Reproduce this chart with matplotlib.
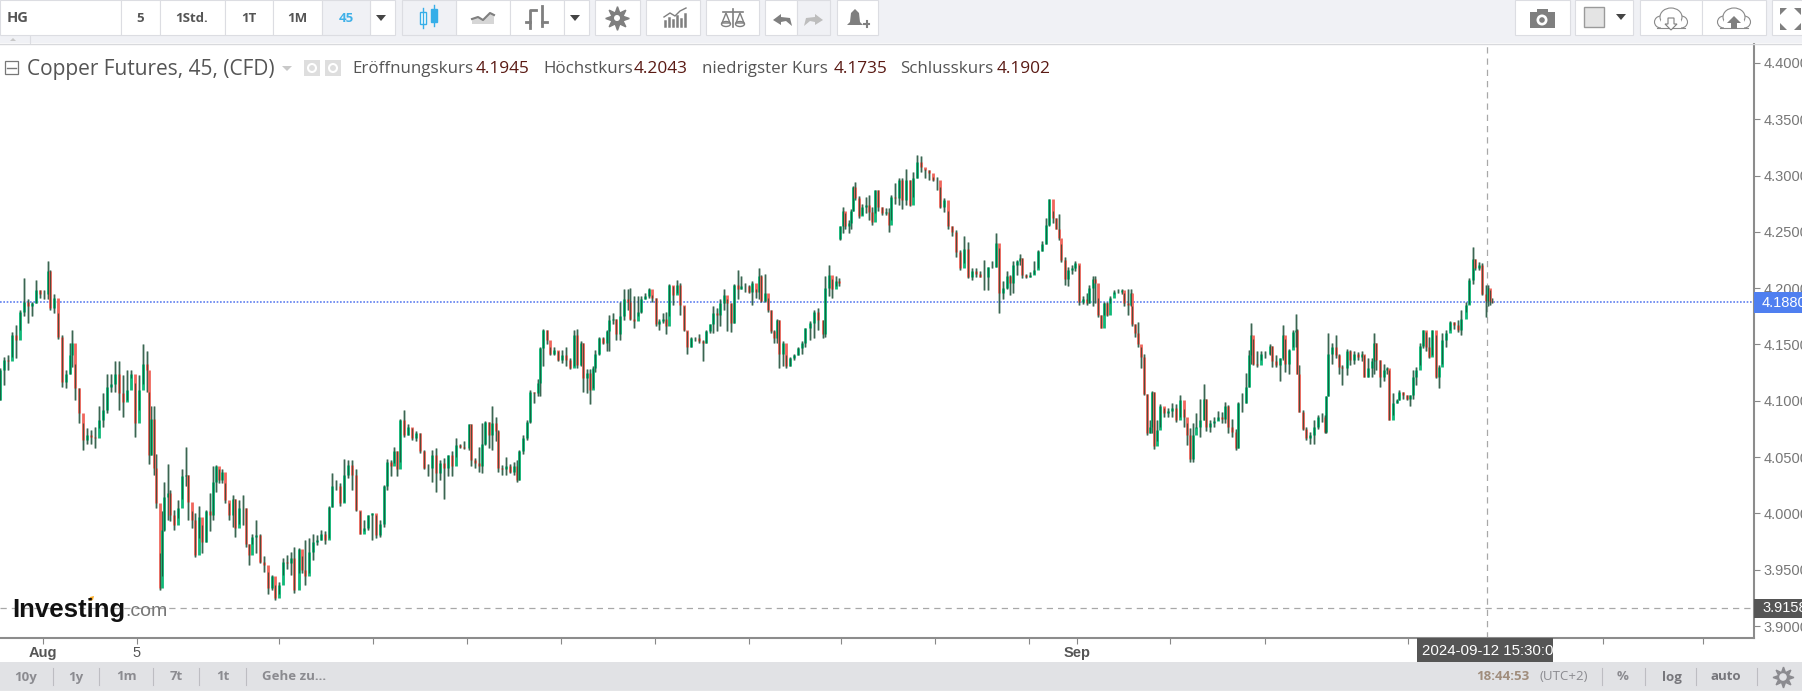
import matplotlib
matplotlib.use('Agg')
import matplotlib.pyplot as plt
from matplotlib.patches import Rectangle, Polygon, Circle, Ellipse

# candles, one block per stretch of the picture
x_a = [0,4,8,12,16,20,24,28,32,36,40,44,48,50,54,58,62,66,70,72,75,79,83,87,91,95,99,103,107,111,115,119,123,127,131,135,139,143,147,149,151,154,156]
close_a = [4.127,4.136,4.135,4.158,4.154,4.179,4.188,4.184,4.187,4.198,4.195,4.195,4.215,4.182,4.191,4.157,4.117,4.124,4.141,4.151,4.111,4.089,4.065,4.070,4.068,4.067,4.083,4.092,4.112,4.115,4.124,4.107,4.099,4.110,4.124,4.080,4.110,4.133,4.127,4.052,4.084,4.040,4.009]
high_a = [4.129,4.139,4.141,4.161,4.167,4.181,4.209,4.190,4.188,4.207,4.198,4.198,4.224,4.216,4.195,4.178,4.158,4.127,4.151,4.163,4.133,4.111,4.080,4.076,4.074,4.077,4.095,4.107,4.124,4.124,4.135,4.135,4.123,4.127,4.127,4.116,4.123,4.150,4.144,4.108,4.095,4.095,4.053]
low_a = [4.101,4.114,4.127,4.139,4.138,4.163,4.175,4.169,4.175,4.187,4.191,4.190,4.190,4.181,4.178,4.155,4.112,4.111,4.124,4.130,4.101,4.080,4.056,4.062,4.062,4.058,4.076,4.077,4.089,4.108,4.108,4.092,4.086,4.101,4.120,4.068,4.092,4.115,4.108,4.044,4.052,4.034,4.005]

x_b = [160,162,164,168,170,174,178,182,186,188,192,195,199,202,206,210,213,216,219,222,225,229,233,235,239,243,246,249,252,256,260,264,268,272,275,279,283,287,291,294]
close_b = [3.934,3.985,4.015,4.018,3.999,3.990,4.005,4.033,4.034,4.010,3.994,3.963,3.997,3.975,4.002,3.999,4.028,4.042,4.030,4.037,4.012,3.999,4.013,3.987,4.005,4.005,3.973,3.963,3.979,3.981,3.957,3.954,3.934,3.944,3.925,3.936,3.957,3.956,3.960,3.932]
high_b = [3.965,4.002,4.028,4.044,4.021,4.003,4.012,4.039,4.059,4.034,4.002,4.000,4.007,3.990,4.003,4.018,4.042,4.043,4.039,4.039,4.027,4.009,4.016,4.013,4.012,4.016,4.005,3.973,3.982,3.994,3.982,3.962,3.948,3.945,3.936,3.939,3.960,3.963,3.966,3.970]
low_b = [3.932,3.944,3.984,3.994,3.993,3.985,3.996,4.013,4.024,3.994,3.987,3.961,3.978,3.965,3.975,3.984,3.994,4.019,4.027,4.027,4.009,3.994,3.988,3.979,3.991,3.990,3.970,3.954,3.973,3.965,3.956,3.948,3.928,3.932,3.923,3.928,3.945,3.951,3.945,3.929]

x_c = [299,302,305,309,313,317,321,325,329,332,336,340,344,348,352,356,360,364,368,372,376,380,384,387,391,394,397,400,404,408,412,416,420,424,428,432,436,440,444,448,452,456,460,464,469,471,475,479,482,485,489,492,496,498,502,506,510,514,517,519,523,527,530,534,538]
close_c = [3.968,3.950,3.944,3.966,3.975,3.976,3.982,3.976,4.006,4.024,4.024,4.009,4.034,4.043,4.034,4.003,3.982,3.987,3.999,4.000,3.981,3.991,4.024,4.046,4.042,4.055,4.039,4.083,4.070,4.077,4.067,4.071,4.055,4.040,4.040,4.052,4.036,4.045,4.040,4.052,4.042,4.061,4.059,4.058,4.079,4.047,4.045,4.042,4.062,4.081,4.070,4.080,4.073,4.040,4.039,4.042,4.037,4.042,4.030,4.055,4.067,4.081,4.108,4.107,4.116]
high_c = [3.969,3.962,3.976,3.978,3.982,3.981,3.985,3.984,4.007,4.036,4.030,4.027,4.048,4.047,4.047,4.039,4.002,3.994,3.999,4.000,3.999,3.994,4.025,4.048,4.047,4.059,4.055,4.084,4.092,4.079,4.076,4.073,4.071,4.056,4.044,4.056,4.058,4.047,4.049,4.052,4.055,4.067,4.062,4.064,4.079,4.079,4.049,4.059,4.080,4.082,4.081,4.095,4.086,4.074,4.043,4.050,4.044,4.046,4.047,4.056,4.070,4.083,4.110,4.108,4.119]
low_c = [3.947,3.947,3.936,3.947,3.959,3.972,3.976,3.973,3.978,4.006,4.021,4.007,4.010,4.031,4.021,4.002,3.982,3.984,3.985,3.976,3.978,3.979,3.988,4.021,4.033,4.045,4.033,4.046,4.068,4.070,4.065,4.064,4.054,4.039,4.033,4.028,4.019,4.030,4.013,4.033,4.033,4.050,4.058,4.057,4.056,4.042,4.040,4.037,4.036,4.061,4.058,4.056,4.064,4.037,4.034,4.034,4.036,4.034,4.028,4.030,4.053,4.065,4.080,4.098,4.104]

x_d = [540,543,547,550,554,558,562,566,570,574,577,581,583,587,590,593,595,599,603,607,609,613,616,620,624,628,630,634,638,641,645,649,652,656,659,663,666,669,673,677,680,684,687,691,695,699,703,706,710,713,717,720,724,727,731,734,738,741,745,749,752,756,759,761,765,768,771,774,777,779,783,786,790,794,798,802,805,810,814,818,823,825,829,832,836,839]
close_d = [4.147,4.163,4.154,4.142,4.145,4.136,4.141,4.136,4.129,4.158,4.132,4.151,4.120,4.125,4.110,4.129,4.142,4.156,4.151,4.162,4.172,4.173,4.159,4.175,4.190,4.188,4.173,4.171,4.179,4.190,4.193,4.199,4.191,4.168,4.171,4.173,4.166,4.203,4.194,4.203,4.185,4.163,4.148,4.156,4.156,4.153,4.151,4.162,4.168,4.178,4.176,4.187,4.194,4.187,4.169,4.203,4.199,4.202,4.202,4.197,4.205,4.197,4.211,4.189,4.196,4.181,4.162,4.156,4.172,4.142,4.151,4.131,4.138,4.141,4.147,4.151,4.165,4.169,4.179,4.172,4.159,4.200,4.212,4.199,4.206,4.205]
high_d = [4.148,4.164,4.163,4.148,4.148,4.144,4.145,4.148,4.138,4.163,4.164,4.153,4.151,4.128,4.128,4.131,4.145,4.157,4.157,4.163,4.176,4.178,4.173,4.188,4.199,4.199,4.200,4.193,4.193,4.193,4.196,4.200,4.194,4.191,4.173,4.178,4.179,4.204,4.202,4.207,4.205,4.184,4.162,4.157,4.157,4.159,4.154,4.163,4.168,4.184,4.182,4.190,4.199,4.190,4.187,4.204,4.216,4.211,4.205,4.203,4.206,4.199,4.218,4.212,4.213,4.191,4.181,4.163,4.173,4.172,4.153,4.141,4.139,4.142,4.148,4.153,4.165,4.171,4.181,4.182,4.172,4.211,4.221,4.208,4.211,4.209]
low_d = [4.104,4.131,4.150,4.141,4.141,4.135,4.134,4.131,4.128,4.131,4.129,4.131,4.108,4.107,4.097,4.111,4.126,4.141,4.150,4.144,4.144,4.168,4.154,4.154,4.172,4.181,4.172,4.165,4.175,4.178,4.190,4.191,4.188,4.166,4.163,4.169,4.159,4.175,4.185,4.196,4.176,4.162,4.142,4.148,4.153,4.151,4.135,4.151,4.160,4.160,4.162,4.166,4.181,4.162,4.161,4.169,4.190,4.199,4.197,4.196,4.185,4.191,4.190,4.188,4.188,4.179,4.160,4.151,4.151,4.129,4.131,4.129,4.131,4.136,4.141,4.142,4.148,4.154,4.156,4.163,4.156,4.157,4.193,4.191,4.202,4.202]

x_e = [840,843,845,849,851,853,855,859,862,866,869,872,875,878,882,886,889,891,895,899,902,906,910,913,917,921,925,929,933,937,940,944,948,952,956,960,964,968,972,976,980,984,988,992,996]
close_e = [4.255,4.269,4.255,4.258,4.269,4.290,4.280,4.264,4.272,4.274,4.268,4.259,4.287,4.272,4.267,4.268,4.256,4.281,4.280,4.296,4.278,4.296,4.274,4.298,4.312,4.308,4.305,4.302,4.296,4.296,4.272,4.278,4.255,4.250,4.232,4.218,4.235,4.210,4.215,4.213,4.210,4.210,4.219,4.219,4.240]
high_e = [4.255,4.272,4.267,4.261,4.270,4.291,4.294,4.282,4.275,4.281,4.283,4.272,4.287,4.287,4.272,4.271,4.271,4.283,4.293,4.298,4.298,4.306,4.296,4.303,4.318,4.317,4.306,4.305,4.299,4.299,4.290,4.280,4.269,4.255,4.252,4.234,4.246,4.241,4.218,4.218,4.215,4.225,4.219,4.224,4.249]
low_e = [4.243,4.249,4.253,4.249,4.253,4.269,4.278,4.262,4.265,4.267,4.261,4.256,4.267,4.269,4.265,4.265,4.250,4.261,4.275,4.274,4.270,4.274,4.273,4.281,4.298,4.303,4.298,4.296,4.295,4.287,4.271,4.268,4.253,4.246,4.228,4.216,4.222,4.209,4.207,4.210,4.210,4.198,4.198,4.218,4.219]

x_f = [999,1003,1007,1010,1013,1017,1020,1022,1026,1030,1034,1038,1042,1046,1049,1053,1056,1059,1061,1065,1068,1072,1075,1079,1083,1087,1089,1093,1095,1098,1101,1104,1107,1110,1114,1118,1122,1124,1128,1131,1132,1135,1138,1141,1144,1147,1150,1152,1154,1157,1160,1164,1168,1172,1176,1180,1184,1187,1190,1193,1196,1200,1204,1206,1210,1214,1218]
close_f = [4.196,4.200,4.211,4.205,4.221,4.224,4.227,4.212,4.210,4.212,4.216,4.233,4.239,4.256,4.279,4.262,4.253,4.245,4.225,4.208,4.216,4.218,4.222,4.188,4.190,4.187,4.200,4.208,4.205,4.176,4.165,4.187,4.176,4.191,4.197,4.197,4.198,4.187,4.185,4.196,4.168,4.160,4.150,4.139,4.106,4.071,4.077,4.108,4.060,4.074,4.095,4.089,4.091,4.094,4.083,4.101,4.086,4.070,4.048,4.070,4.077,4.083,4.102,4.077,4.080,4.082,4.086]
high_f = [4.236,4.206,4.215,4.212,4.224,4.225,4.230,4.227,4.213,4.214,4.224,4.234,4.242,4.262,4.279,4.269,4.262,4.266,4.239,4.228,4.219,4.221,4.224,4.221,4.193,4.196,4.203,4.211,4.211,4.191,4.176,4.188,4.188,4.193,4.198,4.199,4.199,4.196,4.199,4.199,4.184,4.168,4.170,4.148,4.142,4.106,4.083,4.109,4.108,4.083,4.097,4.094,4.094,4.098,4.097,4.105,4.093,4.080,4.076,4.080,4.089,4.102,4.115,4.102,4.083,4.086,4.091]
low_f = [4.178,4.190,4.199,4.194,4.196,4.212,4.221,4.209,4.209,4.210,4.213,4.218,4.233,4.239,4.255,4.258,4.253,4.243,4.223,4.203,4.202,4.213,4.215,4.185,4.186,4.185,4.187,4.184,4.187,4.174,4.165,4.176,4.175,4.187,4.195,4.196,4.195,4.184,4.176,4.184,4.166,4.157,4.148,4.129,4.105,4.070,4.071,4.071,4.057,4.064,4.077,4.086,4.086,4.086,4.081,4.086,4.077,4.061,4.046,4.046,4.076,4.068,4.083,4.073,4.072,4.077,4.083]

x_g = [1222,1225,1228,1232,1236,1238,1242,1246,1249,1251,1253,1257,1261,1265,1270,1272,1276,1280,1283,1285,1289,1293,1296,1297,1299,1303,1306,1310,1314,1318,1322,1325,1326,1328,1332,1336,1339,1342,1347,1350,1354,1358,1362,1364,1368,1372,1374,1376,1380,1384,1387,1389,1393,1397,1399,1403,1407,1410,1413,1416,1420,1423,1426,1429,1432,1436,1439,1442,1446,1450,1454,1458,1461,1466,1469,1473,1475,1479,1482,1486,1488,1490,1492]
close_g = [4.084,4.095,4.077,4.072,4.058,4.098,4.098,4.112,4.141,4.158,4.133,4.132,4.142,4.142,4.149,4.135,4.132,4.138,4.158,4.133,4.145,4.161,4.163,4.124,4.090,4.075,4.067,4.070,4.077,4.086,4.086,4.072,4.104,4.142,4.148,4.141,4.130,4.129,4.144,4.136,4.142,4.139,4.142,4.121,4.129,4.135,4.151,4.136,4.121,4.127,4.129,4.083,4.098,4.101,4.108,4.105,4.102,4.105,4.121,4.127,4.149,4.163,4.148,4.139,4.163,4.121,4.130,4.154,4.160,4.170,4.167,4.163,4.173,4.185,4.207,4.226,4.218,4.221,4.195,4.189,4.200,4.189,4.188]
high_g = [4.090,4.099,4.096,4.084,4.075,4.099,4.107,4.125,4.145,4.169,4.155,4.144,4.144,4.144,4.150,4.149,4.141,4.138,4.167,4.155,4.146,4.163,4.177,4.164,4.132,4.092,4.077,4.072,4.083,4.087,4.089,4.087,4.104,4.160,4.151,4.158,4.142,4.132,4.146,4.145,4.144,4.143,4.144,4.141,4.138,4.138,4.160,4.151,4.136,4.133,4.130,4.127,4.107,4.102,4.110,4.108,4.105,4.105,4.127,4.130,4.151,4.163,4.161,4.157,4.163,4.158,4.132,4.160,4.163,4.171,4.170,4.172,4.181,4.188,4.209,4.237,4.226,4.223,4.222,4.203,4.203,4.198,4.191]
low_g = [4.080,4.080,4.071,4.068,4.056,4.058,4.090,4.098,4.112,4.133,4.132,4.130,4.136,4.138,4.141,4.130,4.130,4.118,4.136,4.126,4.124,4.148,4.148,4.124,4.090,4.074,4.065,4.062,4.062,4.075,4.081,4.071,4.071,4.104,4.133,4.138,4.124,4.114,4.123,4.132,4.133,4.136,4.135,4.121,4.121,4.121,4.124,4.127,4.112,4.118,4.124,4.083,4.087,4.098,4.101,4.102,4.101,4.095,4.102,4.114,4.132,4.147,4.144,4.138,4.141,4.120,4.111,4.133,4.148,4.163,4.164,4.161,4.158,4.179,4.186,4.204,4.216,4.216,4.194,4.174,4.184,4.185,4.187]

first_open = 4.101
gap_x = 840
gap_open = 4.244

y_ticks = [4.40, 4.35, 4.30, 4.25, 4.20, 4.15, 4.10, 4.05, 4.00, 3.95, 3.90]
x_ticks = [43,137,279,373,467,561,655,749,841,935,1029,1077,1170,1265,1408,1603,1703]
x_tick_labels = ['Aug','5','','','','','','','','','','Sep','','','','','']
last_price = 4.188
cross_price = 3.9158
cross_x = 1487

title = 'Copper Futures, 45, (CFD)'
ohlc_names = ['Eröffnungskurs', 'Höchstkurs', 'niedrigster Kurs', 'Schlusskurs']
ohlc_values = ['4.1945', '4.2043', '4.1735', '4.1902']
ranges = ['10y', '1y', '1m', '7t', '1t', 'Gehe zu...']
date_label = '2024-09-12 15:30:00'

bar_x = x_a + x_b + x_c + x_d + x_e + x_f + x_g
closes = close_a + close_b + close_c + close_d + close_e + close_f + close_g
highs = high_a + high_b + high_c + high_d + high_e + high_f + high_g
lows = low_a + low_b + low_c + low_d + low_e + low_f + low_g
opens = [first_open] + closes[:-1]
opens[bar_x.index(gap_x)] = gap_open

plt.rcParams['font.family'] = ['Open Sans', 'DejaVu Sans']
W, H = 1802, 691
AX_R, AX_T, AX_B = 1754, 44, 638
UP = '#10b878'
DOWN = '#f0665c'
GREY = '#7f7f7f'

fig = plt.figure(figsize=(W / 100, H / 100), dpi=100, facecolor='white')

# price chart
ax = fig.add_axes([0, 1 - AX_B / H, AX_R / W, (AX_B - AX_T) / H], zorder=1)
ax.set_xlim(0, AX_R)
ax.set_ylim(3.9 - 12 / 1126, 3.9 + 582 / 1126)
ax.spines['top'].set_visible(False)
ax.spines['left'].set_visible(False)
ax.spines['right'].set_color('#8c8c8c')
ax.spines['bottom'].set_color('#8c8c8c')
ax.spines['right'].set_linewidth(1.5)
ax.spines['bottom'].set_linewidth(1.5)
ax.yaxis.tick_right()
ax.set_yticks(y_ticks)
ax.set_yticklabels(['%.4f' % v for v in y_ticks], family='Liberation Sans', fontsize=10.5, color='#777777')
ax.tick_params(axis='y', length=4, width=0.8, color='#888888', pad=3)
ax.set_xticks(x_ticks)
ax.set_xticklabels(x_tick_labels, family='Liberation Sans', fontsize=10.5, color='#555555')
ax.tick_params(axis='x', length=4, width=0.8, color='#888888', pad=2)
for lab in ax.get_xticklabels():
    if lab.get_text() in ('Aug', 'Sep'):
        lab.set_fontweight('bold')

ax.axhline(last_price, color='#5f7ff0', lw=1.2, ls=(0, (1, 1)), zorder=1)
ax.axhline(cross_price, color='#a8a8a8', lw=0.9, ls=(0, (5, 4)), zorder=1)
ax.axvline(cross_x, color='#a8a8a8', lw=0.9, ls=(0, (5, 4)), zorder=1)

colors = [UP if c >= o else DOWN for o, c in zip(opens, closes)]
ax.vlines(bar_x, lows, highs, color='#4c7a66', lw=2.0, alpha=0.5, zorder=2)
ax.vlines(bar_x, opens, closes, color=colors, lw=2.0, zorder=3)
ax.vlines(bar_x, lows, highs, color='#15452f', lw=0.7, alpha=0.75, zorder=4)

# page furniture, drawn in pixel coordinates on top of the chart
ui = fig.add_axes([0, 0, 1, 1], zorder=2)
ui.set_xlim(0, W)
ui.set_ylim(H, 0)
ui.axis('off')
ui.patch.set_alpha(0)


def box(x0, x1, y0=0, y1=35, fc='white', ec='#dcdde2'):
    ui.add_patch(Rectangle((x0, y0), x1 - x0, y1 - y0, fc=fc, ec=ec, lw=0.8))


def label(x, y, s, color='#555555', size=9, weight='bold', ha='center', family=None):
    return ui.text(x, y, s, color=color, fontsize=size, fontweight=weight, ha=ha, va='center',
                   family=family or ['Open Sans', 'DejaVu Sans'])


def arrow_down(x, y, c='#444444', w=5):
    ui.add_patch(Polygon([(x - w, y - 3), (x + w, y - 3), (x, y + 3)], fc=c, ec='none'))


ui.add_patch(Rectangle((0, 0), W, 43, fc='#f0f1f5', ec='none'))
ui.plot([0, W], [43.5, 43.5], color='#d8d9dc', lw=1)
ui.plot([30, 30], [36, 43], color='#dcdde2', lw=0.8)
ui.add_patch(Polygon([(10, 41), (16, 41), (13, 38)], fc='#c8c8c8', ec='none'))

for x0, x1 in [(0, 121), (121, 160), (160, 225), (225, 273), (273, 322), (370, 395),
               (456, 510), (510, 564), (564, 589), (595, 640), (646, 700), (706, 759),
               (765, 797), (837, 878), (1515, 1570), (1575, 1633), (1640, 1702), (1702, 1766), (1772, 1806)]:
    box(x0, x1)
box(322, 370, fc='#f0f1f5')
box(402, 456, fc='#f0f1f5')
box(797, 830, fc='#f0f1f5')

label(7, 18, 'HG', ha='left', size=10.5)
for x, s in [(140, '5'), (192, '1Std.'), (249, '1T'), (297, '1M')]:
    label(x, 18, s, size=9.5)
label(346, 18, '45', color='#3fb0e8', size=9.5)
arrow_down(381, 18)
arrow_down(575, 18)

# candle icon
for x, y0, y1, fc in [(423, 12, 24, 'white'), (434, 9, 22, '#36aee8')]:
    ui.plot([x, x], [y0 - 4, y1 + 4], color='#36aee8', lw=1)
    ui.add_patch(Rectangle((x - 3, y0), 6, y1 - y0, fc=fc, ec='#36aee8', lw=1))
# area icon
ui.add_patch(Polygon([(472, 24), (472, 19), (478, 17), (483, 20), (490, 13), (494, 15), (494, 24)], fc='#d6d6d6', ec='none'))
ui.plot([472, 478, 483, 490, 494], [19, 17, 20, 13, 15], color=GREY, lw=1.5)
# bars icon
ui.plot([530, 530, 536], [28, 10, 10], color=GREY, lw=2)
ui.plot([526, 530], [22, 22], color=GREY, lw=2)
ui.plot([542, 542], [6, 26], color=GREY, lw=2)
ui.plot([542, 547], [22, 22], color=GREY, lw=2)
# gear
ui.plot(617, 18, marker=(8, 1, 0), ms=17, color=GREY)
ui.add_patch(Circle((617, 18), 6.5, fc=GREY, ec='none', zorder=3))
ui.add_patch(Circle((617, 18), 3, fc='white', ec='none', zorder=4))
# indicators icon
for x, h in [(665, 5), (669, 8), (673, 6), (677, 10), (681, 7), (685, 12)]:
    ui.plot([x, x], [26, 26 - h], color=GREY, lw=1.8)
ui.plot([664, 670, 675, 680, 686], [17, 13, 16, 11, 8], color=GREY, lw=1)
# scales
ui.plot([723, 743], [12, 12], color=GREY, lw=1.2)
ui.plot([733, 733], [9, 27], color=GREY, lw=1.2)
for x in (726, 740):
    ui.add_patch(Polygon([(x, 13), (x - 4, 23), (x + 4, 23)], fc='none', ec=GREY, lw=1))
    ui.add_patch(Ellipse((x, 24), 9, 5, fc='none', ec=GREY, lw=1))
# undo / redo
ui.add_patch(Polygon([(773, 20), (781, 14), (781, 17), (790, 18), (792, 26), (786, 21), (781, 22), (781, 25)], fc=GREY, ec='none'))
ui.add_patch(Polygon([(823, 20), (815, 14), (815, 17), (806, 18), (804, 26), (810, 21), (815, 22), (815, 25)], fc='#bdbdbd', ec='none'))
# bell
ui.add_patch(Polygon([(847, 25), (850, 22), (851, 13), (855, 9), (859, 13), (860, 22), (863, 25)], fc=GREY, ec='none'))
ui.plot([864, 869], [24, 24], color=GREY, lw=1.5)
ui.plot([866.5, 866.5], [21, 27], color=GREY, lw=1.5)
# camera
ui.add_patch(Rectangle((1530, 12), 25, 16, fc=GREY, ec='none'))
ui.add_patch(Rectangle((1537, 9), 11, 4, fc=GREY, ec='none'))
ui.add_patch(Circle((1542, 20), 5.5, fc='white', ec='none', zorder=3))
ui.add_patch(Circle((1542, 20), 2.8, fc=GREY, ec='none', zorder=4))
# colour box
ui.add_patch(Rectangle((1584, 7), 20, 20, fc='#e4e4e4', ec='#9a9a9a', lw=1))
arrow_down(1621, 17)
# clouds
for cx, solid in [(1671, False), (1734, True)]:
    ui.add_patch(Ellipse((cx - 10, 22), 13, 12, fc='white', ec='#8a8a8a', lw=0.8))
    ui.add_patch(Ellipse((cx + 10, 22), 13, 12, fc='white', ec='#8a8a8a', lw=0.8))
    ui.add_patch(Ellipse((cx, 17), 22, 18, fc='white', ec='#8a8a8a', lw=0.8))
    ui.add_patch(Rectangle((cx - 10, 20), 20, 7.5, fc='white', ec='none'))
    ui.plot([cx - 14, cx + 14], [28, 28], color='#8a8a8a', lw=0.8)
    if solid:
        ui.add_patch(Polygon([(cx, 16), (cx + 7, 23), (cx + 3, 23), (cx + 3, 29), (cx - 3, 29), (cx - 3, 23), (cx - 7, 23)], fc=GREY, ec='none', zorder=3))
    else:
        ui.add_patch(Polygon([(cx, 30), (cx + 6, 24), (cx + 3, 24), (cx + 3, 18), (cx - 3, 18), (cx - 3, 24), (cx - 6, 24)], fc='white', ec=GREY, lw=0.8, zorder=3))
# fullscreen
ui.add_patch(Polygon([(1780, 8), (1787, 8), (1780, 15)], fc=GREY, ec='none'))
ui.add_patch(Polygon([(1801, 8), (1794, 8), (1801, 15)], fc=GREY, ec='none'))
ui.add_patch(Polygon([(1780, 30), (1787, 30), (1780, 23)], fc=GREY, ec='none'))
ui.add_patch(Polygon([(1801, 30), (1794, 30), (1801, 23)], fc=GREY, ec='none'))

# legend line
ui.add_patch(Rectangle((5, 61), 13, 13, fc='white', ec='#777777', lw=0.9))
ui.plot([7, 16], [67.5, 67.5], color='#777777', lw=1)
label(27, 69, title, color='#555555', size=15, weight='normal', ha='left')
ui.add_patch(Polygon([(282, 66), (292, 66), (287, 71)], fc='#c9c9c9', ec='none'))
for x0 in (304, 325):
    ui.add_patch(Rectangle((x0, 60), 16, 16, fc='#dedede', ec='none'))
    ui.add_patch(Circle((x0 + 8, 68), 4, fc='none', ec='white', lw=1.5))
for name, value, x0, x1 in zip(ohlc_names, ohlc_values, [352, 543, 702, 900], [476, 634, 834, 997]):
    label(x0, 69, name, color='#555555', size=12.2, weight='normal', ha='left')
    label(x1, 69, value, color='#5a1a14', size=12.4, weight='normal', ha='left')

# logo
logo = label(12, 610, 'Investing', color='#111111', size=18.5, weight='bold', ha='left', family=['Liberation Sans'])
logo.set_path_effects([])
label(125, 612, '.com', color='#777777', size=14, weight='normal', ha='left', family=['Liberation Sans'])
ui.add_patch(Polygon([(89, 601), (90, 597), (94, 596), (93, 600)], fc='#f7a823', ec='none'))

# value boxes on the price scale
ui.add_patch(Rectangle((1754, 292), 48, 21, fc='#4f7ff0', ec='none'))
label(1762, 302.5, '%.4f' % last_price, color='white', size=10.5, weight='normal', ha='left', family=['Liberation Sans'])
ui.add_patch(Rectangle((1754, 599), 48, 19, fc='#555555', ec='none'))
label(1762, 608.5, '%.4f' % cross_price, color='white', size=10.5, weight='normal', ha='left', family=['Liberation Sans'])
date_box = Rectangle((1417, 638), 136, 24, fc='#555555', ec='none')
ui.add_patch(date_box)
t = label(1422, 651, date_label, color='white', size=10.8, weight='normal', ha='left', family=['Liberation Sans'])
t.set_clip_path(date_box)

# status bar
ui.add_patch(Rectangle((0, 662), W, 29, fc='#e1e2e5', ec='none'))
ui.plot([0, W], [690.5, 690.5], color='#f2f2f4', lw=1)
for x, s in zip([26, 76, 127, 176, 223, 262], ranges):
    label(x, 677, s, color='#8b8b90', size=9.5, ha='left' if s.startswith('Gehe') else 'center')
for x in [53, 99, 153, 199, 246, 1602, 1645, 1696, 1757]:
    ui.plot([x, x], [668, 685], color='#bdbdc2', lw=0.8)
label(1476, 677, '18:44:53', color='#a08d7c', size=9.5, ha='left')
label(1539, 677, '(UTC+2)', color='#8b8b90', size=9.5, weight='normal', ha='left')
label(1623, 677, '%', color='#8b8b90', size=9.5)
label(1672, 677, 'log', color='#77777c', size=9.5)
label(1726, 677, 'auto', color='#77777c', size=9.5)
ui.plot(1783, 677, marker=(8, 1, 0), ms=15, color='#8b8b90')
ui.add_patch(Circle((1783, 677), 4.5, fc='#e1e2e5', ec='#8b8b90', lw=1, zorder=3))

fig.savefig('out.png', dpi=100)
